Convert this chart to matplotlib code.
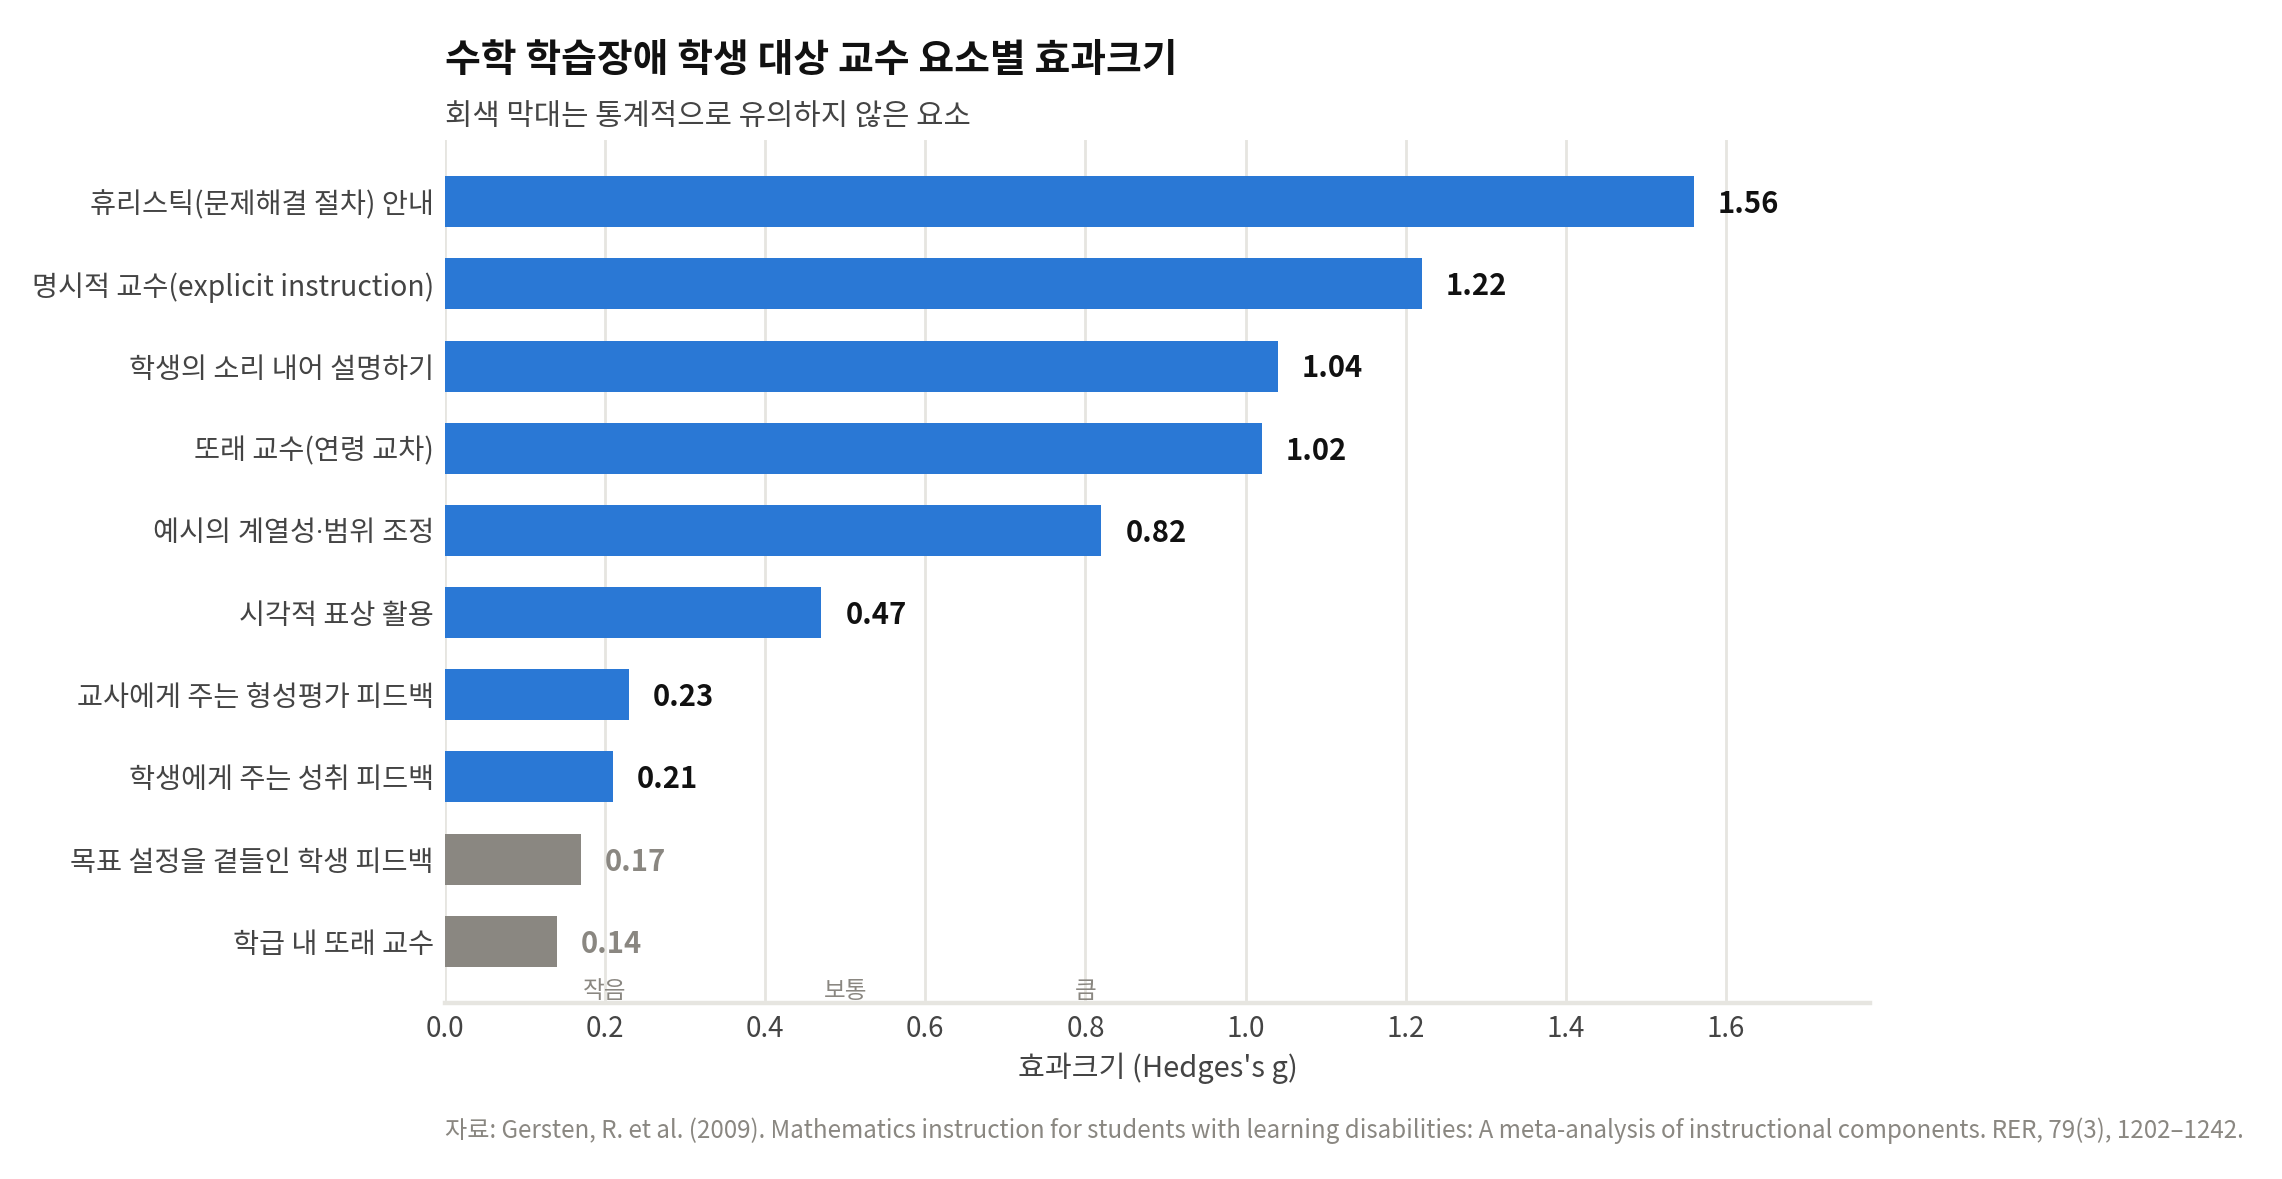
import matplotlib
matplotlib.use("Agg")
import matplotlib.pyplot as plt
import matplotlib.transforms as mtransforms

plt.rcParams['font.family'] = ['Noto Sans CJK KR', 'DejaVu Sans']

categories = [
    "휴리스틱(문제해결 절차) 안내",
    "명시적 교수(explicit instruction)",
    "학생의 소리 내어 설명하기",
    "또래 교수(연령 교차)",
    "예시의 계열성·범위 조정",
    "시각적 표상 활용",
    "교사에게 주는 형성평가 피드백",
    "학생에게 주는 성취 피드백",
    "목표 설정을 곁들인 학생 피드백",
    "학급 내 또래 교수",
]
effect_sizes = [1.56, 1.22, 1.04, 1.02, 0.82, 0.47, 0.23, 0.21, 0.17, 0.14]
significant = [True, True, True, True, True, True, True, True, False, False]

benchmark_values = [0.2, 0.5, 0.8]
benchmark_labels = ["작음", "보통", "큼"]
xticks = [0.0, 0.2, 0.4, 0.6, 0.8, 1.0, 1.2, 1.4, 1.6]

BLUE = "#2A78D5"
GREY = "#8A8781"
GRID = "#E6E5E0"
TEXT = "#444444"

fig = plt.figure(figsize=(11.41, 5.895), dpi=200)
ax = fig.add_axes([445/2282, 1-1003/1179, (1870-445)/2282, (1003-140)/1179])

ypos = list(range(len(categories)))
colors = [BLUE if s else GREY for s in significant]
ax.barh(ypos, effect_sizes, height=0.62, color=colors, zorder=3)

for y, v, s in zip(ypos, effect_sizes, significant):
    ax.text(v + 0.03, y + 0.03, f"{v:.2f}", va='center', ha='left', fontsize=10.5,
            fontweight='bold', color="#111111" if s else GREY, zorder=4)

ax.set_ylim(9.75, -0.75)
ax.set_xlim(0, 1.78)
ax.set_yticks(ypos)
ax.set_yticklabels(categories, fontsize=10.2, color=TEXT)
for lbl in ax.get_yticklabels():
    if "·" in lbl.get_text():
        lbl.set_fontfamily(['Roboto', 'Noto Sans CJK KR', 'DejaVu Sans'])
ax.set_xticks(xticks)
ax.set_xticklabels([f"{t:.1f}" for t in xticks], fontsize=10, color=TEXT)
ax.tick_params(axis='y', length=0, pad=4)
ax.tick_params(axis='x', length=0, pad=4)

ax.grid(axis='x', color=GRID, linewidth=1.0, zorder=0)
ax.grid(axis='y', visible=False)
for side in ['top', 'right', 'left']:
    ax.spines[side].set_visible(False)
ax.spines['bottom'].set_color(GRID)
ax.spines['bottom'].set_linewidth(1.6)
ax.spines['bottom'].set_zorder(5)

trans = mtransforms.blended_transform_factory(ax.transData, ax.transAxes)
for bv, bl in zip(benchmark_values, benchmark_labels):
    ax.text(bv, 0.0, bl, transform=trans, ha='center', va='bottom',
            fontsize=8.5, color=GREY, zorder=4)

ax.set_xlabel("효과크기 (Hedges's g)", fontsize=10.5, color=TEXT, labelpad=3)

fig.text(445/2282, 1-72/1179, "수학 학습장애 학생 대상 교수 요소별 효과크기",
         fontsize=14, fontweight='bold', color="#111111", ha='left', va='baseline')
fig.text(445/2282, 1-125/1179, "회색 막대는 통계적으로 유의하지 않은 요소",
         fontsize=10.7, color=TEXT, ha='left', va='baseline')
fig.text(445/2282, 1-1138/1179,
         "자료: Gersten, R. et al. (2009). Mathematics instruction for students with learning disabilities: A meta-analysis of instructional components. RER, 79(3), 1202\u20131242.",
         fontsize=8.7, color=GREY, ha='left', va='baseline')

fig.savefig("out.png", dpi=200)
